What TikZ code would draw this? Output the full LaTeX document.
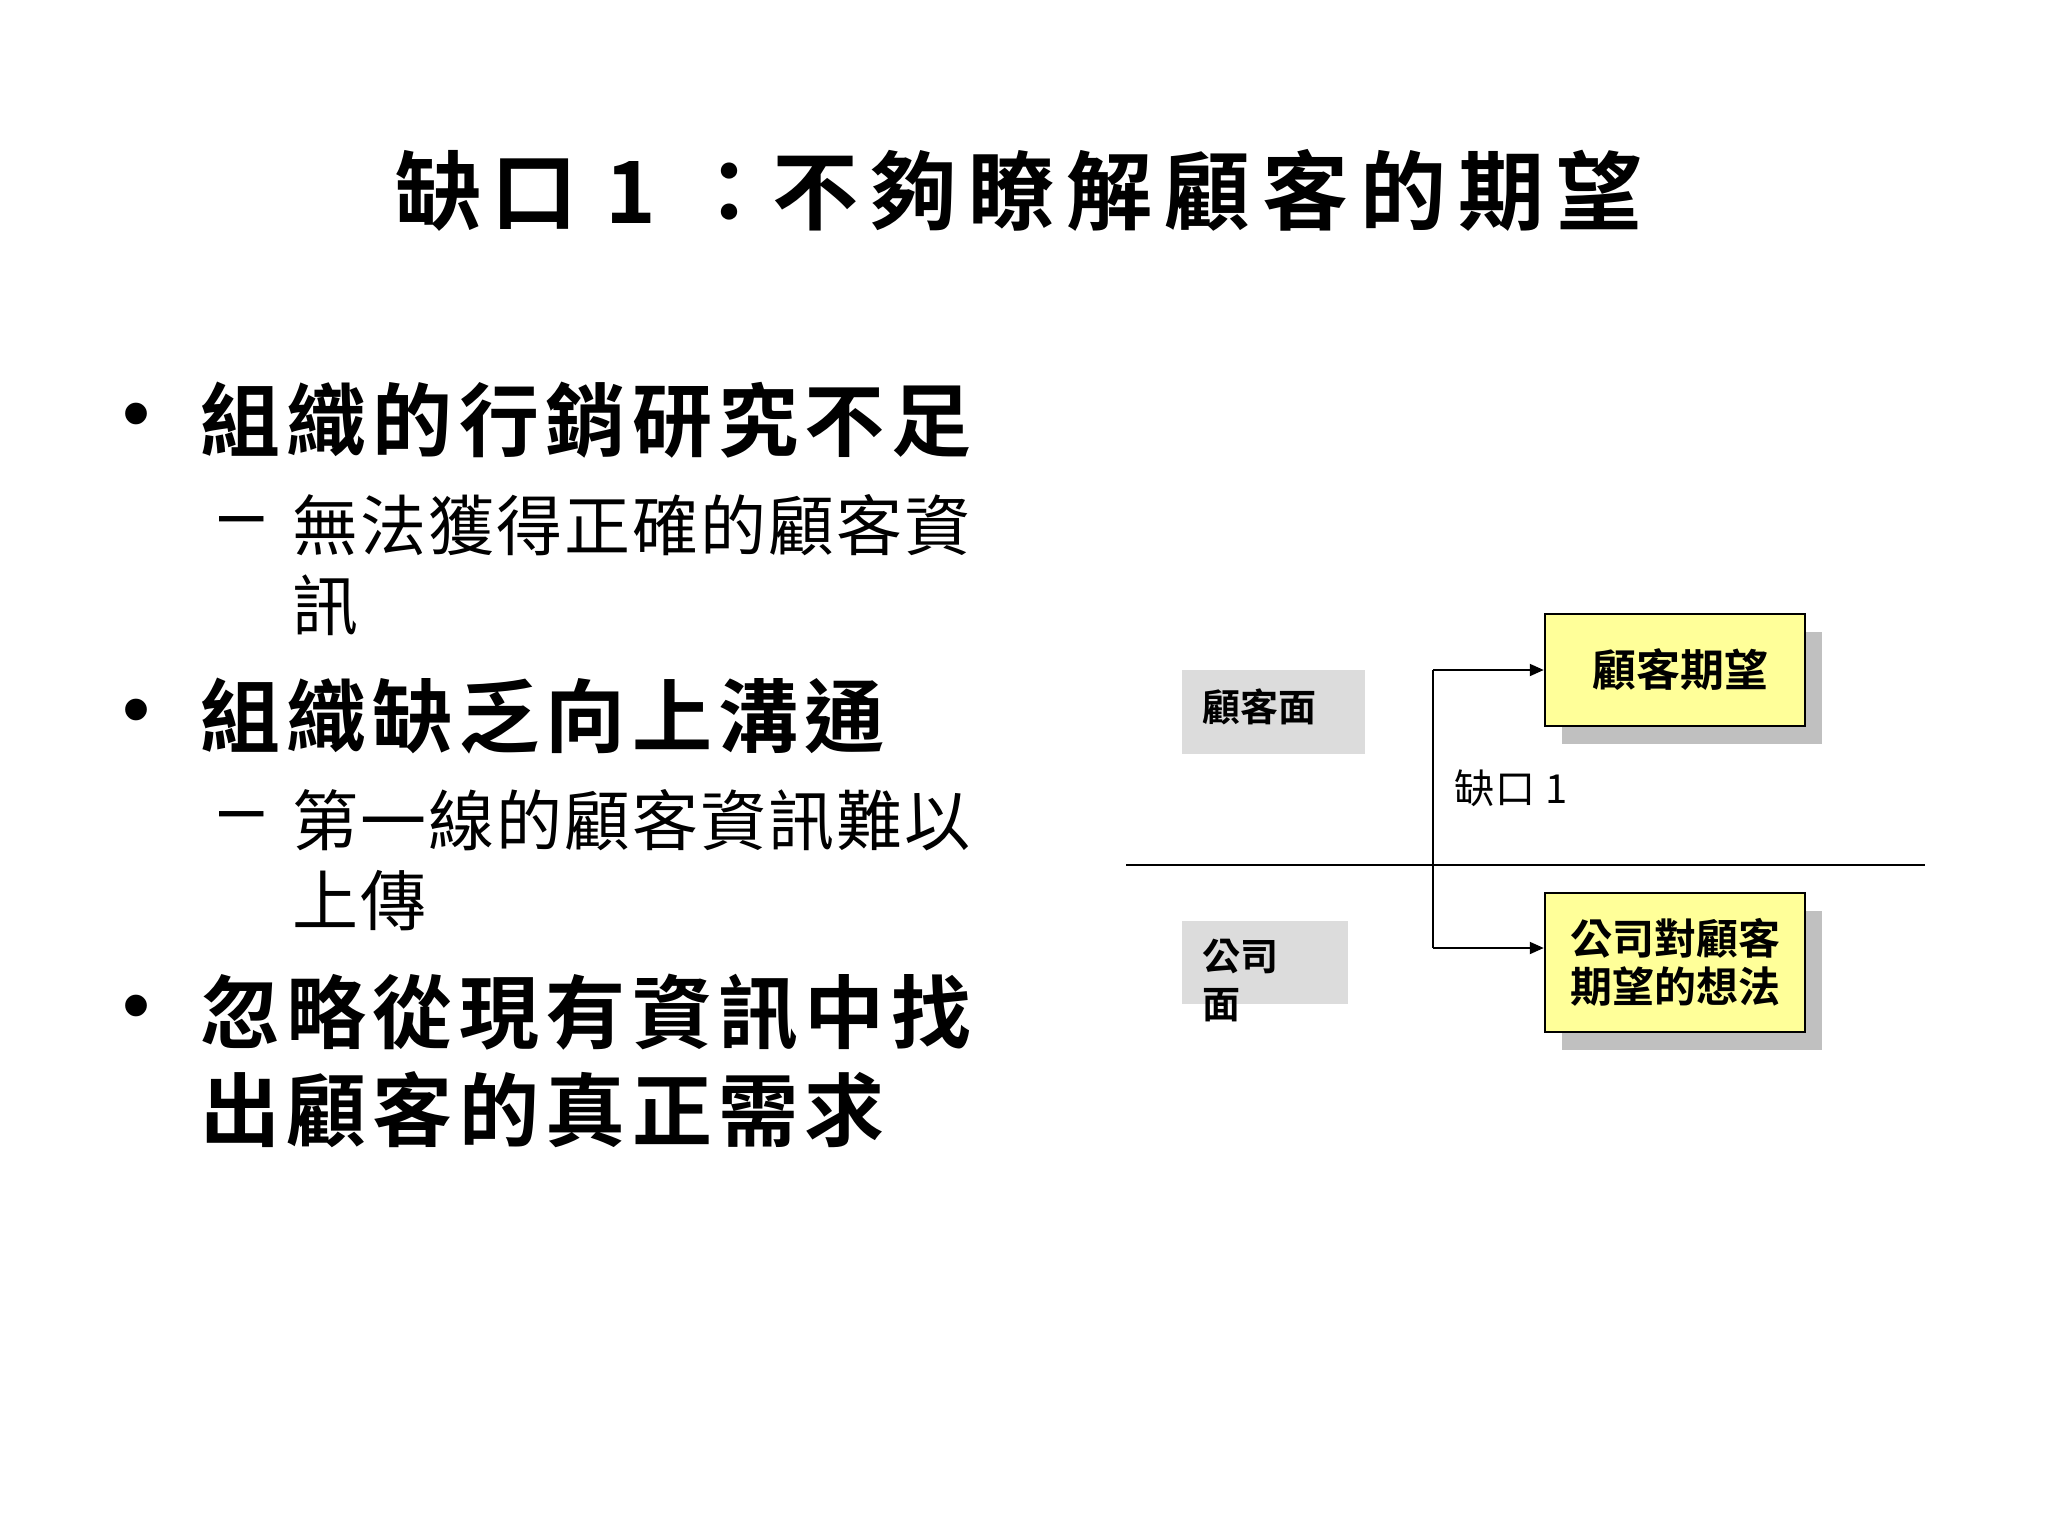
\documentclass[tikz,border=0pt]{standalone}
\usepackage{fontspec}
\usetikzlibrary{arrows.meta}
\newfontfamily\cjkb{Noto Sans CJK TC Bold}
\newfontfamily\cjkr[LetterSpace=3]{Noto Sans CJK TC}
\newfontfamily\cjkbs[LetterSpace=8]{Noto Sans CJK TC Bold}
\newfontfamily\lat{Liberation Sans}
\definecolor{boxy}{HTML}{FFFF99}
\definecolor{shad}{HTML}{C0C0C0}
\definecolor{pat}{HTML}{DCDCDC}
\tikzset{
 main/.style={anchor=west,inner sep=0,font=\cjkbs\fontsize{80}{96}\selectfont},
 sub/.style={anchor=west,inner sep=0,font=\cjkr\fontsize{66}{80}\selectfont},
 dot/.style={anchor=center,inner sep=0,font=\lat\fontsize{80}{90}\selectfont},
 ybox/.style={draw=black,line width=2.5pt,fill=boxy,inner sep=0},
 gbox/.style={fill=pat,inner sep=0},
 arr/.style={line width=2pt,-{Triangle[length=14pt,width=12pt]}}
}
\begin{document}
\begin{tikzpicture}[x=1pt,y=-1pt]
\useasboundingbox (0,0) rectangle (2048,1536);
\node[anchor=center,inner sep=0,font=\cjkb\fontsize{86}{100}\selectfont] (title) at (1019,190) {缺\hspace{10pt}口\hspace{28pt}1\hspace{30pt}：不\hspace{12pt}夠\hspace{12pt}瞭\hspace{12pt}解\hspace{12pt}顧\hspace{12pt}客\hspace{12pt}的\hspace{12pt}期\hspace{12pt}望};
% bullets
\node[dot] (d1) at (137,422) {•};
\node[main] (b1) at (200,420) {組織的行銷研究不足};
\node[dot] (s1d) at (242,528) {–};
\node[sub] (s1) at (292,525) {無法獲得正確的顧客資};
\node[sub] (s1b) at (292,605) {訊};
\node[dot] (d2) at (137,718) {•};
\node[main] (b2) at (200,716) {組織缺乏向上溝通};
\node[dot] (s2d) at (242,823) {–};
\node[sub] (s2) at (292,820) {第一線的顧客資訊難以};
\node[sub] (s2b) at (292,901) {上傳};
\node[dot] (d3) at (137,1014) {•};
\node[main] (b3) at (200,1012) {忽略從現有資訊中找};
\node[main] (b3b) at (200,1110) {出顧客的真正需求};
% diagram
\fill[shad] (1562,632) rectangle (1822,744);
\fill[shad] (1562,911) rectangle (1822,1050);
\node[ybox,minimum width=260pt,minimum height=112pt,font=\cjkb\fontsize{44}{54}\selectfont] (ce) at (1675,670) {\hspace{10pt}顧客期望};
\node[ybox,minimum width=260pt,minimum height=139pt,align=center,font=\cjkb\fontsize{42}{48}\selectfont] (ct) at (1675,962.5) {公司對顧客\\期望的想法};
\fill[gbox] (1182,670) rectangle (1365,754);
\node[anchor=west,inner sep=0,font=\cjkb\fontsize{38}{46}\selectfont] (cs) at (1202,707) {顧客面};
\fill[gbox] (1182,921) rectangle (1348,1004);
\node[anchor=west,inner sep=0,align=left,font=\cjkb\fontsize{38}{48}\selectfont] (co) at (1202,980) {公司\\面};
\coordinate (hl) at (1126,865);
\coordinate (hr) at (1925,865);
\draw[line width=2pt] (hl) -- (hr);
\coordinate (vt) at (1433,670);
\coordinate (vb) at (1433,948);
\draw[line width=2pt] (vt) -- (vb);
\draw[arr] (vt) -- (ce.west |- vt);
\draw[arr] (vb) -- (ct.west |- vb);
\node[anchor=west,inner sep=0,font=\cjkr\fontsize{40}{50}\selectfont] (gap) at (1454,788) {缺口 1};
\end{tikzpicture}
\end{document}
